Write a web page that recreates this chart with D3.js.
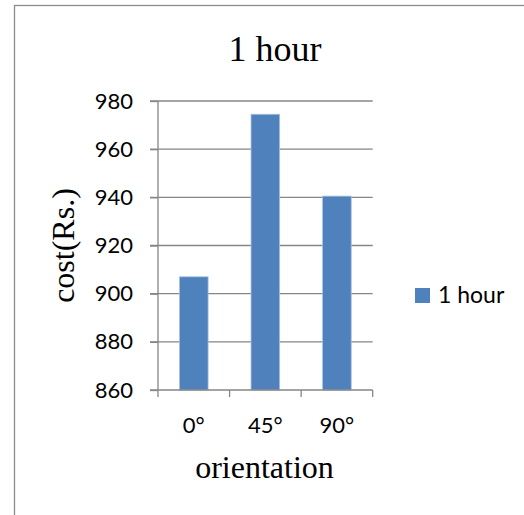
<!DOCTYPE html>
<html><head><meta charset="utf-8">
<script src="https://cdn.jsdelivr.net/npm/d3@7"></script>
<style>body{margin:0;background:#fff}svg{display:block}</style>
</head><body>
<script>
const categories = ["0°", "45°", "90°"];
const values = [907, 974.5, 940.5];
const yTicks = [860, 880, 900, 920, 940, 960, 980];
const seriesName = "1 hour";
const titleText = "1 hour";
const xTitle = "orientation";
const yTitle = "cost(Rs.)";

const W = 524, H = 515;
const svg = d3.select("body").append("svg").attr("width", W).attr("height", H);
svg.append("rect").attr("x", 14.5).attr("y", 5.5).attr("width", 540).attr("height", 540)
  .attr("fill", "#fff").attr("stroke", "#8c8c8c").attr("stroke-width", 1.3);

const x0 = 158, x1 = 372.7, yTop = 101, yBot = 390;
const x = d3.scaleBand().domain(categories).range([x0, x1]).paddingInner(0.6).paddingOuter(0.3);
const y = d3.scaleLinear().domain([860, 980]).range([yBot, yTop]);
const grid = "#868686";

// gridlines
svg.append("g").selectAll("line").data(yTicks.slice(1)).join("line")
  .attr("x1", 150).attr("x2", x1).attr("y1", d => y(d)).attr("y2", d => y(d))
  .attr("stroke", grid).attr("stroke-width", 1.3);

// bars
svg.append("g").selectAll("rect").data(values).join("rect")
  .attr("x", (d, i) => x(categories[i])).attr("width", x.bandwidth())
  .attr("y", d => y(d)).attr("height", d => yBot - y(d))
  .attr("fill", "#4f81bd").attr("stroke", "#a9c1e0").attr("stroke-width", 0.8);

// y axis
const yAxis = d3.axisLeft(y).tickValues(yTicks).tickSize(8).tickPadding(17);
const gy = svg.append("g").attr("transform", `translate(${x0},0)`).call(yAxis);
gy.select(".domain").attr("stroke", grid).attr("stroke-width", 1.3).attr("d", `M0,${yTop}V${yBot}`);
gy.selectAll(".tick line").attr("stroke", grid).attr("stroke-width", 1.3);
gy.selectAll("text").attr("font-family", "Lato, sans-serif").attr("font-size", 22).attr("fill", "#000");

// x axis
const xAxis = d3.axisBottom(x).tickSize(0).tickPadding(27);
const gx = svg.append("g").attr("transform", `translate(0,${yBot})`).call(xAxis);
gx.select(".domain").attr("stroke", grid).attr("stroke-width", 1.3).attr("d", `M150,0H${x1}`);
gx.selectAll("text").attr("font-family", "Lato, sans-serif").attr("font-size", 22).attr("fill", "#000");
// category boundary ticks
const bounds = d3.range(categories.length + 1).map(i => x0 + i * (x1 - x0) / categories.length);
gx.append("g").selectAll("line").data(bounds).join("line")
  .attr("x1", d => d).attr("x2", d => d).attr("y1", 0).attr("y2", 7)
  .attr("stroke", grid).attr("stroke-width", 1.3);

// title
svg.append("text").attr("x", 275).attr("y", 61).attr("text-anchor", "middle")
  .attr("font-family", "'Liberation Serif', 'Times New Roman', serif").attr("font-size", 36).text(titleText);
// x title
svg.append("text").attr("x", 264.5).attr("y", 478).attr("text-anchor", "middle")
  .attr("font-family", "'Liberation Serif', 'Times New Roman', serif").attr("font-size", 32).text(xTitle);
// y title
svg.append("text").attr("transform", "translate(74,245.5) rotate(-90)").attr("text-anchor", "middle")
  .attr("font-family", "'Liberation Serif', 'Times New Roman', serif").attr("font-size", 32).text(yTitle);

// legend
svg.append("rect").attr("x", 415).attr("y", 288).attr("width", 15).attr("height", 15).attr("fill", "#4f81bd");
svg.append("text").attr("x", 438).attr("y", 302.5).attr("font-family", "Lato, sans-serif")
  .attr("font-size", 23).text(seriesName);
</script>
</body></html>
